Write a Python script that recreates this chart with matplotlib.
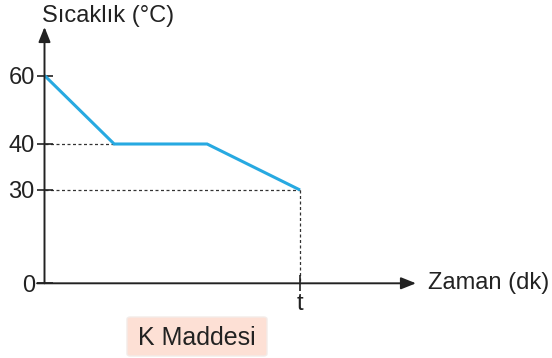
import numpy as np
import matplotlib
matplotlib.use("Agg")
import matplotlib.pyplot as plt
from matplotlib.patches import FancyBboxPatch

plt.rcParams["font.family"] = ["Liberation Sans", "DejaVu Sans"]

# Heating curve data for substance K
time = [0, 3, 7, 11]
temp = [60, 40, 40, 30]
y_ticks = [0, 30, 40, 60]
x_tick_labels = ["t"]

line_color = "#27a9e1"
ink = "#222222"

W, H = 552, 358
fig = plt.figure(figsize=(W / 100, H / 100), dpi=100)

# axes box in pixels: origin at (45, 283), arrow tips at x=416 and y=27
x0, y0, x1, y1 = 44.5, 283.3, 416, 27
ax = fig.add_axes([x0 / W, (H - y0) / H, (x1 - x0) / W, (y0 - y1) / H])

# schematic (non-uniform) temperature axis spacing
_nodes = np.array([0, 30, 40, 60, 100], dtype=float)
_pos = np.array([0, 93.3, 139.3, 207.8, 207.8 + 40 * 3.45])


def fwd(v):
    return np.interp(v, _nodes, _pos)


def inv(v):
    return np.interp(v, _pos, _nodes)


ax.set_yscale("function", functions=(fwd, inv))
ax.set_xlim(0, (x1 - x0) / (300 - x0) * time[-1])
ax.set_ylim(0, inv(y0 - y1))

for s in ax.spines.values():
    s.set_visible(False)
ax.patch.set_alpha(0)

# guide lines
dot = dict(color="#333333", lw=0.9, ls=(0, (2.4, 2.0)), zorder=1)
ax.plot([0, time[1]], [temp[1], temp[1]], **dot)
ax.plot([0, time[-1]], [temp[-1], temp[-1]], **dot)
ax.plot([time[-1], time[-1]], [temp[-1], 0], **dot)

# temperature curve
ax.plot(time, temp, color=line_color, lw=2.2, solid_joinstyle="miter",
        solid_capstyle="butt", zorder=3)

# arrowed axes
arrow = dict(arrowstyle="-|>,head_length=0.9,head_width=0.36", lw=1.4,
             color=ink, shrinkA=0, shrinkB=0)
ax.annotate("", xy=(0, 1), xytext=(0, 0), xycoords="axes fraction",
            arrowprops=arrow, annotation_clip=False)
ax.annotate("", xy=(1, 0), xytext=(-0.02, 0), xycoords="axes fraction",
            arrowprops=arrow, annotation_clip=False)

ax.set_yticks(y_ticks)
ax.set_yticklabels([str(v) for v in y_ticks])
ax.set_xticks([time[-1]])
ax.set_xticklabels(x_tick_labels)
ax.yaxis.set_minor_locator(matplotlib.ticker.NullLocator())
ax.tick_params(axis="both", direction="inout", length=11, width=1.2,
               color=ink, labelcolor=ink, labelsize=17, pad=1.5)

# axis titles
fig.text(42 / W, (H - 22) / H, "Sıcaklık (°C)", fontsize=17, color=ink,
         ha="left", va="baseline")
fig.text(428 / W, (H - 289) / H, "Zaman (dk)", fontsize=17, color=ink,
         ha="left", va="baseline")

# substance label
bx0, by0, bx1, by1 = 127, 317, 267, 356
box = FancyBboxPatch((bx0 / W, (H - by1) / H), (bx1 - bx0) / W,
                     (by1 - by0) / H,
                     boxstyle="round,pad=0,rounding_size=0.006",
                     transform=fig.transFigure, facecolor="#fde0d5",
                     edgecolor="#f3ebe8", lw=1.0)
fig.patches.append(box)
fig.text((bx0 + bx1) / 2 / W, (H - 345) / H, "K Maddesi", fontsize=18,
         color=ink, ha="center", va="baseline")

fig.savefig("out.png", dpi=100)
